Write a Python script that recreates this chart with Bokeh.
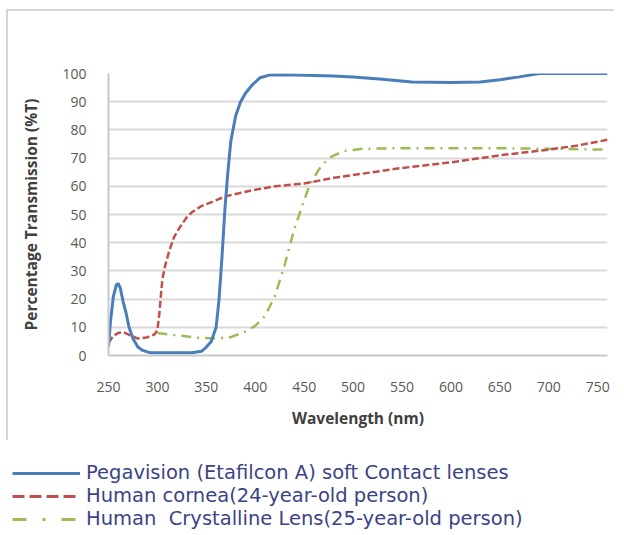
from bokeh.plotting import figure
from bokeh.models import Range1d, FixedTicker, Legend, LegendItem
from bokeh.embed import file_html
from bokeh.resources import INLINE

# Wavelength (nm) and % transmission
lens_x = [250, 252, 255, 258, 260, 262, 265, 268, 271, 275, 280, 285, 292, 300, 320, 335,
          345, 350, 355, 360, 363, 366, 369, 372, 375, 380, 385, 390, 397, 405, 415, 430,
          450, 480, 500, 530, 560, 600, 630, 650, 670, 690, 720, 760]
lens_y = [3, 12, 21, 25, 25.5, 24, 19, 15, 10, 6, 3, 1.8, 1, 1, 1, 1,
          1.5, 3, 5, 10, 20, 35, 52, 65, 76, 85, 90, 93, 96, 98.5, 99.5, 99.6,
          99.4, 99.1, 98.8, 98, 97, 96.8, 97, 97.8, 98.8, 100, 100, 100]

cornea_x = [250, 255, 260, 265, 270, 280, 290, 297, 300, 302, 305, 308, 312, 317, 322, 330,
            336, 345, 356, 370, 380, 400, 420, 450, 480, 520, 550, 600, 650, 700, 730, 760]
cornea_y = [4.5, 7, 8, 8.3, 7.5, 6, 6.5, 7.5, 9, 15, 27, 32, 37, 42, 45, 49,
            51, 53, 54.5, 56.5, 57.3, 58.8, 60, 61, 63, 65, 66.5, 68.5, 71, 73, 74.5, 76.5]

crystal_x = [300, 310, 325, 340, 360, 375, 390, 400, 410, 420, 430, 440, 447, 455, 465, 475,
             490, 510, 550, 600, 650, 700, 760]
crystal_y = [8, 7.5, 7, 6.3, 6, 6.5, 8.5, 10.5, 14, 21, 32, 45, 52, 60, 66, 70,
             72.5, 73.3, 73.5, 73.5, 73.5, 73.3, 73]

x_ticks = [250, 300, 350, 400, 450, 500, 550, 600, 650, 700, 750]
y_ticks = [0, 10, 20, 30, 40, 50, 60, 70, 80, 90, 100]

labels = ["Pegavision (Etafilcon A) soft Contact lenses",
          "Human cornea(24-year-old person)",
          "Human  Crystalline Lens(25-year-old person)"]
colors = ["#4a7ebb", "#c0504d", "#9bbb59"]

p = figure(width=608, height=431, output_backend="svg", toolbar_location=None,
           x_range=Range1d(250, 760), y_range=Range1d(0, 100),
           min_border_left=100, min_border_right=9, min_border_top=62, min_border_bottom=87)
p.outline_line_color = None
p.styles = {"margin-left": "6px", "margin-top": "9px",
            "border-left": "2px solid #d6d6d6", "border-top": "2px solid #d6d6d6"}

p.xgrid.visible = False
p.ygrid.ticker = FixedTicker(ticks=y_ticks)
p.ygrid.grid_line_color = "#d9d9d9"
p.ygrid.grid_line_width = 2

p.xaxis.ticker = FixedTicker(ticks=x_ticks)
p.yaxis.ticker = FixedTicker(ticks=y_ticks)
for ax in (p.xaxis, p.yaxis):
    ax.major_tick_line_color = None
    ax.minor_tick_line_color = None
    ax.axis_line_color = "#c8c8c8"
    ax.axis_line_width = 2
    ax.major_label_text_font = "Open Sans"
    ax.major_label_text_font_size = "14px"
    ax.major_label_text_color = "#595959"
    ax.axis_label_text_font = "Open Sans"
    ax.axis_label_text_font_size = "15.5px"
    ax.axis_label_text_font_style = "bold"
    ax.axis_label_text_color = "#404040"
p.xaxis.axis_label = "Wavelength (nm)"
p.yaxis.axis_label = "Percentage Transmission (%T)"
p.yaxis.major_label_standoff = 16
p.yaxis.axis_label_standoff = 17
p.xaxis.major_label_standoff = 20
p.xaxis.axis_label_standoff = 12

p.line(crystal_x, crystal_y, line_color=colors[2], line_width=2.5, line_dash="10 6 2 6")
p.line(cornea_x, cornea_y, line_color=colors[1], line_width=2.5, line_dash="7 3")
p.line(lens_x, lens_y, line_color=colors[0], line_width=3)

leg = figure(width=616, height=90, output_backend="svg", toolbar_location=None,
             x_range=Range1d(0, 1), y_range=Range1d(0, 1),
             min_border_left=0, min_border_right=0, min_border_top=0, min_border_bottom=0,
             x_axis_location=None, y_axis_location=None)
leg.grid.visible = False
leg.outline_line_color = None
r1 = leg.line(x=[-5, -4], y=[-5, -5], line_color=colors[0], line_width=3)
r2 = leg.line(x=[-5, -4], y=[-5, -5], line_color=colors[1], line_width=3, line_dash="12 5")
r3 = leg.line(x=[-5, -4], y=[-5, -5], line_color=colors[2], line_width=3, line_dash="14 16 3 16")
legend = Legend(items=[LegendItem(label=labels[0], renderers=[r1]),
                       LegendItem(label=labels[1], renderers=[r2]),
                       LegendItem(label=labels[2], renderers=[r3])],
                location=(12, 0), orientation="vertical",
                glyph_width=68, glyph_height=22, label_height=22, spacing=0,
                padding=0, margin=0, label_standoff=6,
                label_text_font="DejaVu Sans", label_text_font_size="19.5px",
                label_text_color="#3b4385", border_line_color=None,
                background_fill_alpha=0)
leg.add_layout(legend)

open("out.html", "w").write(file_html([p, leg], INLINE))
